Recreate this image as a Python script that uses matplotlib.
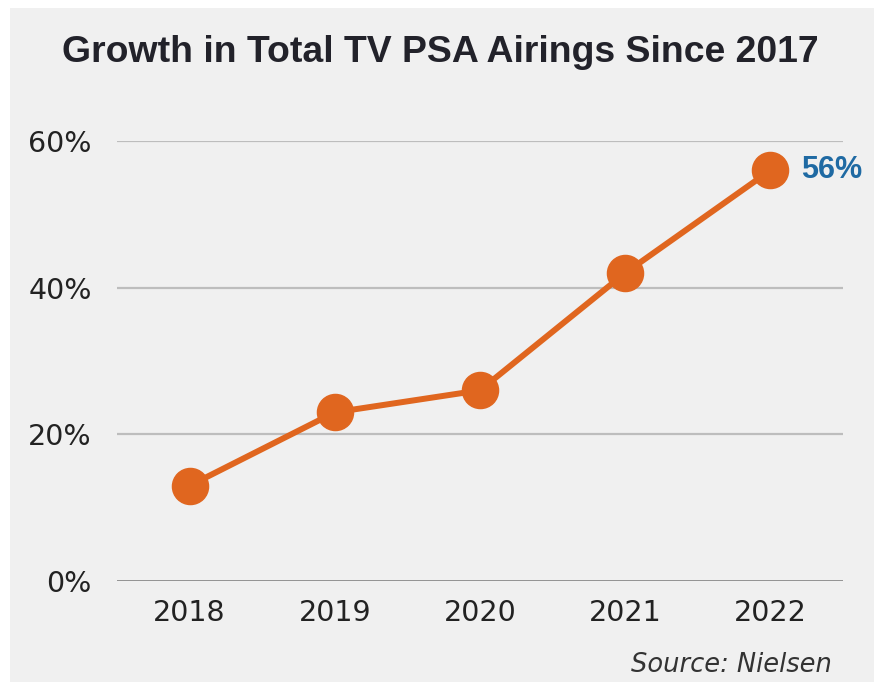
import matplotlib
matplotlib.use("Agg")
import matplotlib.pyplot as plt
from matplotlib.patches import Rectangle

years = ["2018", "2019", "2020", "2021", "2022"]
growth = [13, 23, 26, 42, 56]
yticks = [0, 20, 40, 60]
ytick_labels = ["0%", "20%", "40%", "60%"]
title = "Growth in Total TV PSA Airings Since 2017"
source = "Source: Nielsen"

W, H = 878, 684
fig = plt.figure(figsize=(W / 100, H / 100), dpi=100, facecolor="white")
fig.patches.append(Rectangle((10 / W, (H - 682) / H), 864 / W, 674 / H,
                             transform=fig.transFigure, facecolor="#f0f0f0",
                             edgecolor="none", zorder=-5))

ax = fig.add_axes([117 / W, (H - 581) / H, 726 / W, 440 / H])
ax.set_zorder(2)
ax.set_facecolor("none")
x = list(range(len(years)))
ax.plot(x, growth, color="#e0661f", lw=4.3, marker="o", markersize=26,
        solid_capstyle="round", clip_on=False, zorder=3)
ax.set_xlim(-0.5, len(years) - 0.5)
ax.set_ylim(0, 60)
ax.set_yticks(yticks)
ax.set_yticklabels(ytick_labels)
ax.set_xticks(x)
ax.set_xticklabels(years)
for s in ax.spines.values():
    s.set_visible(False)
ax.tick_params(length=0)
ax.tick_params(axis="y", pad=18)
ax.tick_params(axis="x", pad=13)
for lab in ax.get_xticklabels() + ax.get_yticklabels():
    lab.set_fontfamily("DejaVu Sans")
    lab.set_fontsize(20.5)
    lab.set_color("#222222")
for v in yticks:
    ax.axhline(v, color="#8a8a8a" if v == 0 else "#bdbdbd",
               lw=2.0 if v == 0 else 1.6, zorder=1)

ax.annotate(f"{growth[-1]}%", (x[-1], growth[-1]), xytext=(22, 0),
            textcoords="offset points", ha="left", va="center",
            fontsize=22, fontweight="bold", color="#1f6aa3",
            fontfamily="Liberation Sans")

fig.text(440 / W, 1 - 53 / H, title, ha="center", va="center",
         fontsize=26.9, fontweight="bold", color="#22222a",
         fontfamily="Liberation Sans")
fig.text(832 / W, 1 - 665 / H, source, ha="right", va="center",
         fontsize=18.5, style="italic", color="#333333", fontfamily="DejaVu Sans")

fig.savefig("out.png", dpi=100, facecolor="white")
